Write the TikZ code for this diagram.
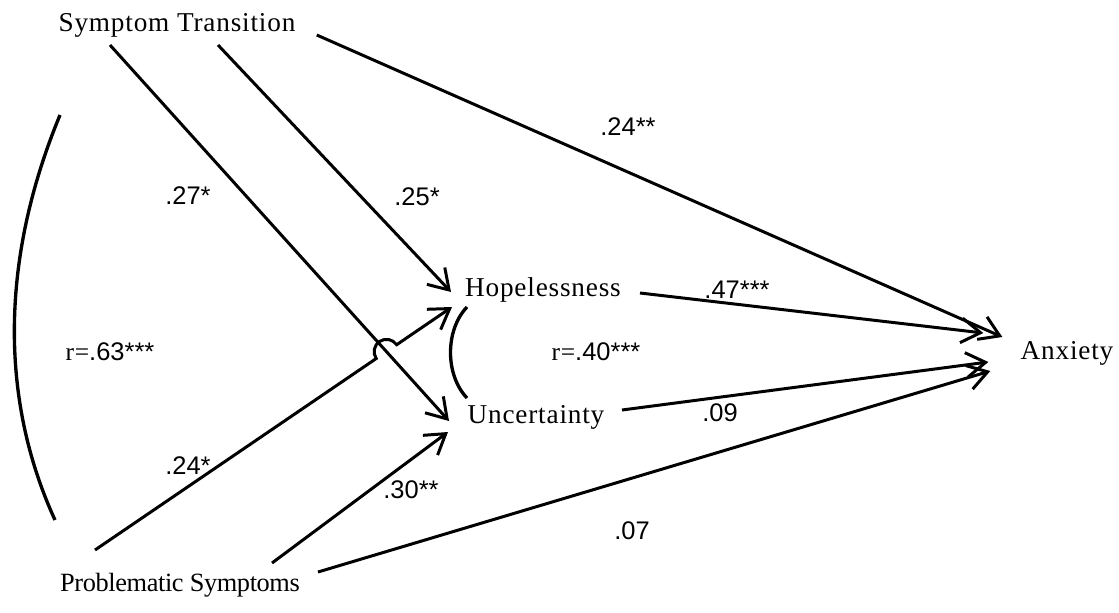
\documentclass[tikz,border=0pt]{standalone}
\usepackage{fontspec}
\setmainfont{Liberation Serif}[LetterSpace=3]
\newfontfamily\coeffont{Liberation Sans}
\newfontfamily\tightfont{Liberation Serif}[LetterSpace=-1.5]
\usetikzlibrary{arrows.meta, calc, intersections}

\begin{document}
\begin{tikzpicture}[
  x=0.02cm, y=-0.02cm,
  var/.style={inner sep=0pt, font=\fontsize{15.5}{18}\selectfont},
  coef/.style={inner sep=0pt, font=\coeffont\fontsize{14.5}{17}\selectfont},
  link/.style={-{Straight Barb[length=11pt,width=14pt]}, line width=1.7pt},
  corr/.style={line width=1.9pt},
]
  \useasboundingbox (0,0) rectangle (1119,612);

  \node[var] (st)   at (177,25)  {Symptom Transition};
  \node[var, font=\tightfont\fontsize{15}{18}\selectfont] (ps) at (180,585) {Problematic Symptoms};
  \node[var] (hope) at (543,290) {Hopelessness};
  \node[var] (unc)  at (536,417) {Uncertainty};
  \node[var] (anx)  at (1067,353) {Anxiety};

  \draw[link] ([shift={(21,10)}]st.center -| st.east) -- ([shift={(-18,-16)}]anx.west);
  \draw[link] ([shift={(41,20)}]st.center) -- ([shift={(-92,2)}]hope.center);
  \draw[link, name path=stunc] ([shift={(-67,20)}]st.center) -- ([shift={(-87,4)}]unc.center);
  \path[name path=pshope] ([shift={(-85,-35)}]ps.center) -- ([shift={(-91,17)}]hope.center);
  \path[name intersections={of=stunc and pshope, by=cross}];
  \draw[link] ([shift={(-85,-35)}]ps.center) -- ($(cross)+(214:7pt)$)
    arc[start angle=214, end angle=34, radius=7pt] -- ([shift={(-91,17)}]hope.center);
  \draw[link] ([shift={(92,-22)}]ps.center) -- ([shift={(-88,15)}]unc.center);
  \draw[link] ([shift={(138,-13)}]ps.center) -- ([shift={(-30,18)}]anx.west);
  \draw[link] ([shift={(97,3)}]hope.center) -- ([shift={(-37,-20)}]anx.west);
  \draw[link] ([shift={(86,-7)}]unc.center) -- ([shift={(-32,9)}]anx.west);

  \draw[corr] ([shift={(-117,90)}]st.center) .. controls +(-60,145) and +(-55,-120) .. ([shift={(-125,-65)}]ps.center);
  \draw[corr] ([shift={(-76,17)}]hope.center) .. controls +(-22,23) and +(-22,-23) .. ([shift={(-69,-19)}]unc.center);

  \node[coef] (c1) at (628,127) {.24**};
  \node[coef] (c2) at (188,196) {.27*};
  \node[coef] (c3) at (417,197) {.25*};
  \node[coef] (c4) at (110,352) {{\rmfamily r=}.63***};
  \node[coef] (c5) at (737,290) {.47***};
  \node[coef] (c6) at (596,352) {{\rmfamily r=}.40***};
  \node[coef] (c7) at (720,413) {.09};
  \node[coef] (c8) at (188,466) {.24*};
  \node[coef] (c9) at (411,490) {.30**};
  \node[coef] (c10) at (632,531) {.07};
\end{tikzpicture}
\end{document}
